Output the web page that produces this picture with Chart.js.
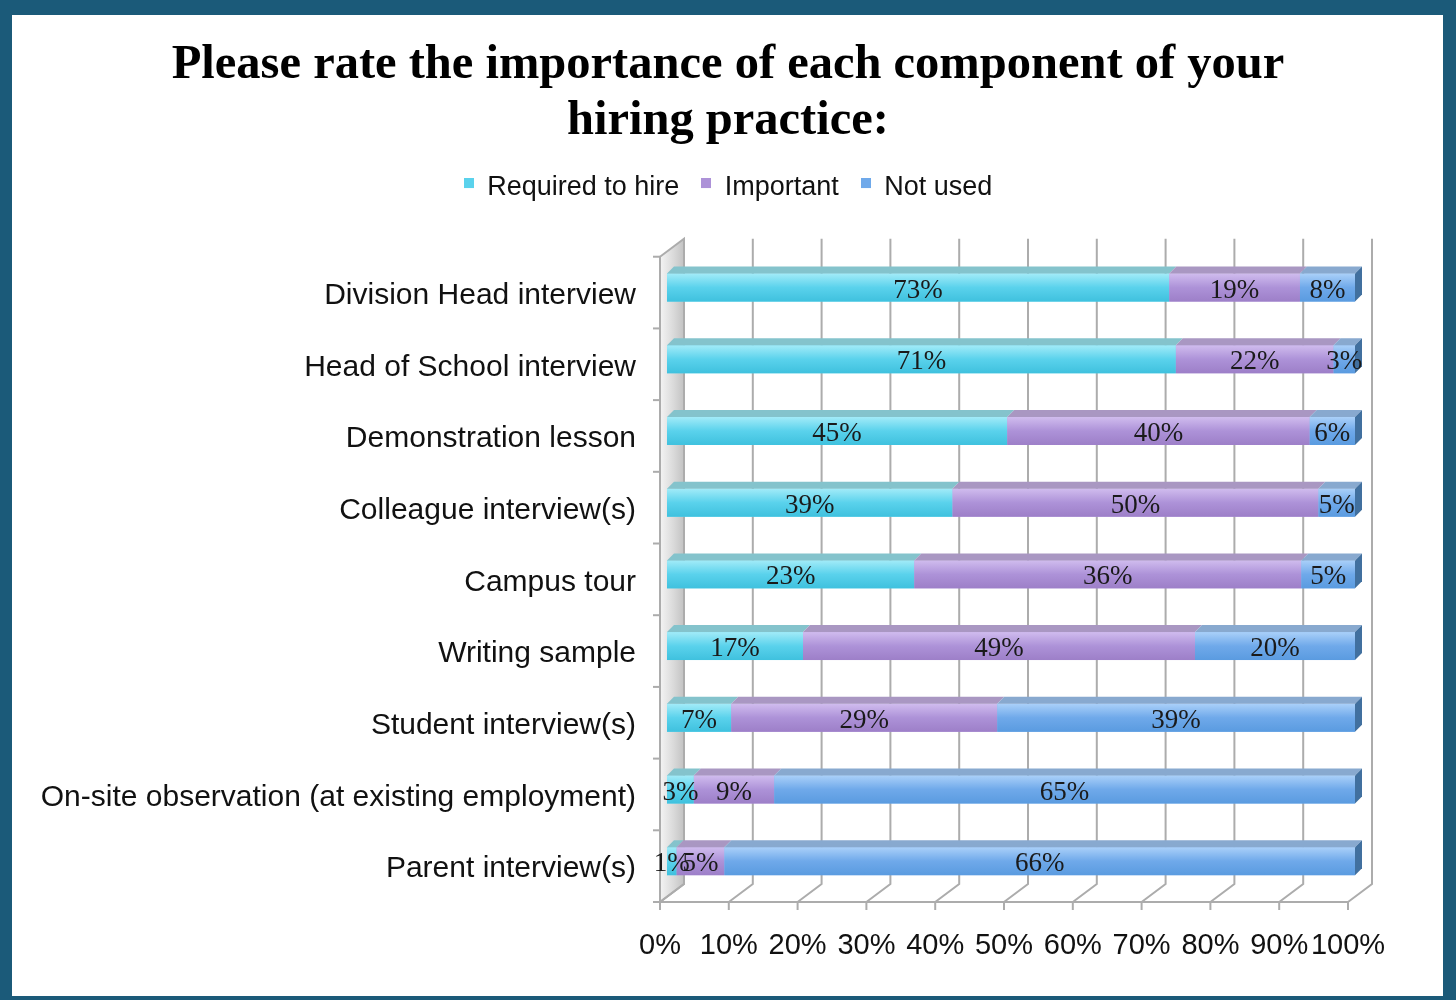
<!DOCTYPE html>
<html><head><meta charset="utf-8">
<script src="https://cdn.jsdelivr.net/npm/chart.js@4"></script>
<style>html,body{margin:0;padding:0;background:#fff}#wrap{width:1456px;height:1000px;position:relative}</style>
</head><body><div id="wrap"><canvas id="c" width="1456" height="1000"></canvas></div>
<script>
const categories = [
  'Division Head interview',
  'Head of School interview',
  'Demonstration lesson',
  'Colleague interview(s)',
  'Campus tour',
  'Writing sample',
  'Student interview(s)',
  'On-site observation (at existing employment)',
  'Parent interview(s)'
];
const requiredToHire = [73, 71, 45, 39, 23, 17, 7, 3, 1];
const important      = [19, 22, 40, 50, 36, 49, 29, 9, 5];
const notUsed        = [8, 3, 6, 5, 5, 20, 39, 65, 66];
const seriesNames = ['Required to hire', 'Important', 'Not used'];
const titleLines = ['Please rate the importance of each component of your', 'hiring practice:'];

const raw = [requiredToHire, important, notUsed];
// 100% stacked: each bar is scaled to its row total
const totals = categories.map((_, j) => raw.reduce((s, arr) => s + arr[j], 0));
const share = arr => arr.map((v, j) => v / totals[j] * 100);

const palette = [
  {top:'#a2ebf8', bot:'#3fc1de', cap:'#84c3cc', flat:'#5ad2ec'},
  {top:'#d0bcee', bot:'#9d7fc8', cap:'#a997c2', flat:'#ad92d8'},
  {top:'#aad0f9', bot:'#5a9be0', cap:'#88a9cf', flat:'#6fa9ea'}
];
const D = 7, WX = 24, WY = 18, OFF = -7;

// legend marker: small square sitting at the top of the text line
function marker(color) {
  const c = document.createElement('canvas');
  c.width = 10; c.height = 20;
  const g = c.getContext('2d');
  g.fillStyle = color; g.fillRect(0, 0, 10, 10);
  return c;
}
const markers = palette.map(p => marker(p.flat));

const deco = {
  id: 'deco',
  beforeInit(chart) {
    const orig = chart.legend.fit;
    chart.legend.fit = function () { orig.call(this); this.height += 40.2; };
  },
  beforeDraw(chart) {
    const {ctx, chartArea: a, scales: {x, y}} = chart;
    ctx.save();
    ctx.fillStyle = '#1b5a79';
    ctx.fillRect(0, 0, 1456, 15); ctx.fillRect(0, 0, 12, 1000);
    ctx.fillRect(1443, 0, 13, 1000); ctx.fillRect(0, 996, 1456, 4);
    const front = v => x.getPixelForValue(v) + OFF;
    const yTop = a.top - 13, yBackBot = a.bottom - 13, yFrontBot = a.bottom + 5;
    const x0 = front(0);
    const g = ctx.createLinearGradient(x0, 0, x0 + WX, 0);
    g.addColorStop(0, '#f4f4f4'); g.addColorStop(0.6, '#d8d8d8'); g.addColorStop(1, '#c2c2c2');
    ctx.fillStyle = g;
    ctx.strokeStyle = '#acacac'; ctx.lineWidth = 2;
    ctx.beginPath(); ctx.moveTo(x0, yTop + WY); ctx.lineTo(x0 + WX, yTop); ctx.lineTo(x0 + WX, yBackBot); ctx.lineTo(x0, yFrontBot); ctx.closePath();
    ctx.fill(); ctx.stroke();
    for (let v = 0; v <= 100; v += 10) {
      const xf = front(v);
      ctx.beginPath(); ctx.moveTo(xf + WX, yTop); ctx.lineTo(xf + WX, yBackBot); ctx.lineTo(xf, yFrontBot); ctx.stroke();
      ctx.beginPath(); ctx.moveTo(xf, yFrontBot); ctx.lineTo(xf, yFrontBot + 8); ctx.stroke();
    }
    ctx.beginPath(); ctx.moveTo(front(0), yFrontBot); ctx.lineTo(front(100), yFrontBot); ctx.stroke();
    for (let k = 0; k <= categories.length; k++) {
      const yy = y.getPixelForValue(k - 0.5) + 5;
      ctx.beginPath(); ctx.moveTo(x0 - 7, yy); ctx.lineTo(x0, yy); ctx.stroke();
    }
    ctx.restore();
  },
  afterDatasetsDraw(chart) {
    const ctx = chart.ctx;
    ctx.save();
    const n = chart.data.datasets.length;
    for (let i = 0; i < n; i++) {
      const meta = chart.getDatasetMeta(i);
      const p = palette[i];
      meta.data.forEach((bar, j) => {
        const xa = Math.min(bar.base, bar.x), xb = Math.max(bar.base, bar.x);
        const yt = bar.y - bar.height / 2, yb = bar.y + bar.height / 2;
        const g = ctx.createLinearGradient(0, yt, 0, yb);
        g.addColorStop(0, p.top); g.addColorStop(0.5, p.flat); g.addColorStop(1, p.bot);
        ctx.fillStyle = g;
        ctx.fillRect(xa, yt, xb - xa, yb - yt);
        ctx.fillStyle = p.cap;
        ctx.beginPath(); ctx.moveTo(xa, yt); ctx.lineTo(xa + D, yt - D); ctx.lineTo(xb + D, yt - D); ctx.lineTo(xb, yt); ctx.closePath(); ctx.fill();
        if (i === n - 1) {
          ctx.fillStyle = '#41709f';
          ctx.beginPath(); ctx.moveTo(xb, yt); ctx.lineTo(xb + D, yt - D); ctx.lineTo(xb + D, yb - D); ctx.lineTo(xb, yb); ctx.closePath(); ctx.fill();
        }
      });
    }
    ctx.font = '27px "Liberation Serif", serif';
    ctx.fillStyle = '#1a1a1a';
    ctx.textAlign = 'center'; ctx.textBaseline = 'middle';
    for (let i = 0; i < n; i++) {
      const meta = chart.getDatasetMeta(i);
      meta.data.forEach((bar, j) => {
        ctx.fillText(raw[i][j] + '%', (bar.base + bar.x) / 2, bar.y + 3);
      });
    }
    ctx.restore();
  }
};

new Chart(document.getElementById('c'), {
  type: 'bar',
  data: {
    labels: categories,
    datasets: raw.map((arr, i) => ({
      label: seriesNames[i],
      data: share(arr),
      backgroundColor: palette[i].flat,
      borderWidth: 0,
      barPercentage: 0.39,
      categoryPercentage: 1
    }))
  },
  options: {
    indexAxis: 'y',
    responsive: false,
    devicePixelRatio: 1,
    animation: false,
    layout: {padding: {left: 0, right: 0, top: 0, bottom: 5}},
    scales: {
      x: {
        stacked: true, min: 0, max: 100,
        grid: {display: false, drawTicks: false}, border: {display: false},
        ticks: {stepSize: 10, callback: v => v + '%', labelOffset: OFF, padding: 31.6,
          maxRotation: 0, minRotation: 0, autoSkip: false,
          font: {family: '"Liberation Sans", Arial, sans-serif', size: 29}, color: '#111'}
      },
      y: {
        stacked: true,
        grid: {display: false, drawTicks: false}, border: {display: false},
        afterFit: s => { s.width = 667; },
        ticks: {padding: 31, labelOffset: 8,
          font: {family: '"Liberation Sans", Arial, sans-serif', size: 30}, color: '#111'}
      },
      yRight: {
        type: 'linear', position: 'right', display: true,
        grid: {display: false, drawTicks: false}, border: {display: false},
        ticks: {display: false},
        afterFit: s => { s.width = 101; }
      }
    },
    plugins: {
      title: {
        display: true, text: titleLines, color: '#000',
        font: {family: '"Liberation Serif", serif', size: 48.5, weight: 'bold', lineHeight: 1.16},
        padding: {top: 37, bottom: 3}
      },
      legend: {
        display: true, position: 'top',
        labels: {
          usePointStyle: true, boxWidth: 10, boxHeight: 10, padding: 22, color: '#111',
          font: {family: '"Liberation Sans", Arial, sans-serif', size: 27},
          generateLabels(chart) {
            const items = Chart.defaults.plugins.legend.labels.generateLabels(chart);
            items.forEach((it, i) => { it.pointStyle = markers[i]; });
            return items;
          }
        }
      },
      tooltip: {enabled: false}
    }
  },
  plugins: [deco]
});
</script>
</body></html>
